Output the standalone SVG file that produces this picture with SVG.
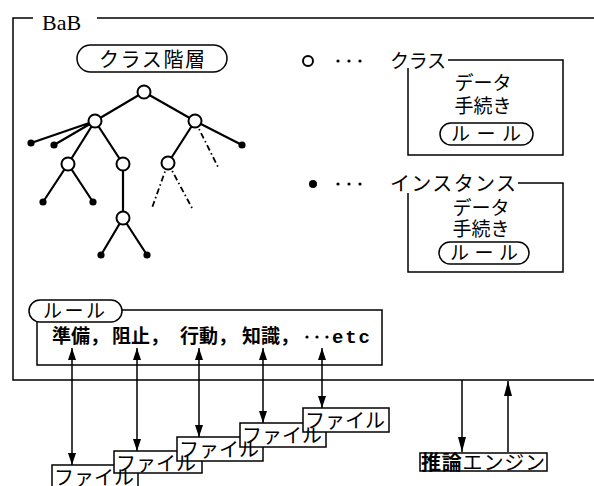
<svg xmlns="http://www.w3.org/2000/svg" width="594" height="486" viewBox="0 0 594 486">
<style>
.ln{stroke:#000;stroke-width:1.5;fill:none}
.tr{stroke:#000;stroke-width:2.2;fill:none}
.dd{stroke:#000;stroke-width:1.8;fill:none;stroke-dasharray:6 3 1.5 3}
.cls{fill:#fff;stroke:#000;stroke-width:2}
.ins{fill:#000}
.pill{fill:#fff;stroke:#000;stroke-width:1.5}
.box{fill:#fff;stroke:#000;stroke-width:1.5}
.t{font-family:"Noto Sans CJK JP","Noto Sans",sans-serif;fill:#000}
.b{font-weight:bold}
.ar{stroke:#000;stroke-width:1.5;fill:none}
</style>
<defs>
<marker id="ah" viewBox="0 0 12 8" refX="12" refY="4" markerWidth="12" markerHeight="8" markerUnits="userSpaceOnUse" orient="auto-start-reverse"><path d="M0,0L12,4L0,8z" fill="#000"/></marker>
<marker id="ahL" viewBox="0 0 15 8" refX="15" refY="4" markerWidth="15" markerHeight="8" markerUnits="userSpaceOnUse" orient="auto-start-reverse"><path d="M0,0L15,4L0,8z" fill="#000"/></marker>
</defs>
<rect width="594" height="486" fill="#fff"/>

<g id="frame">
<path class="ln" d="M33,18H13V380H594M97,18H594"/>
<text x="42" y="30" font-family="Liberation Serif,serif" font-size="22">BaB</text>
</g>

<g id="class-hierarchy-label">
<rect class="pill" x="77" y="45" width="150" height="27" rx="13.5"/>
<text class="t" x="152" y="67" font-size="20" text-anchor="middle" textLength="106">クラス階層</text>
</g>

<g id="connectors">
<g id="tree-edges">
<path class="tr" d="M144,92L95,121M144,92L195,121M95,121L31,143M95,121L54,145M95,121L68,164M95,121L123,164M68,164L43,202M68,164L93,202M123,164L123,218M123,218L101,255M123,218L147,255M195,121L242,145M195,121L168,163"/>
<path class="dd" d="M195,121L218,167M168,163L152,208M168,163L192,208"/>
</g>
<g id="file-arrows">
<line class="ar" x1="72" y1="348" x2="72" y2="465" marker-start="url(#ah)" marker-end="url(#ah)"/>
<line class="ar" x1="137" y1="348" x2="137" y2="451" marker-start="url(#ah)" marker-end="url(#ah)"/>
<line class="ar" x1="199" y1="348" x2="199" y2="437" marker-start="url(#ah)" marker-end="url(#ah)"/>
<line class="ar" x1="263" y1="348" x2="263" y2="423" marker-start="url(#ah)" marker-end="url(#ah)"/>
<line class="ar" x1="322" y1="348" x2="322" y2="408" marker-start="url(#ah)" marker-end="url(#ah)"/>
</g>
<g id="engine-arrows">
<line class="ar" x1="462" y1="380" x2="462" y2="452" marker-end="url(#ahL)"/>
<line class="ar" x1="508" y1="452" x2="508" y2="381" marker-end="url(#ahL)"/>
</g>
</g>

<g id="tree-nodes">
<circle id="n-root" class="cls" cx="144" cy="92" r="6.5"/>
<circle id="n-l" class="cls" cx="95" cy="121" r="6.5"/>
<circle id="n-r" class="cls" cx="195" cy="121" r="6.5"/>
<circle id="n-ll" class="cls" cx="68" cy="164" r="6.5"/>
<circle id="n-lr" class="cls" cx="123" cy="164" r="6.5"/>
<circle id="n-lrc" class="cls" cx="123" cy="218" r="6.5"/>
<circle id="n-rl" class="cls" cx="168" cy="163" r="6.5"/>
<circle id="i1" class="ins" cx="31" cy="143" r="3.6"/>
<circle id="i2" class="ins" cx="54" cy="145" r="3.6"/>
<circle id="i3" class="ins" cx="43" cy="202" r="3.6"/>
<circle id="i4" class="ins" cx="93" cy="202" r="3.6"/>
<circle id="i5" class="ins" cx="101" cy="255" r="3.6"/>
<circle id="i6" class="ins" cx="147" cy="255" r="3.6"/>
<circle id="i7" class="ins" cx="242" cy="145" r="3.6"/>
</g>

<g id="legend-class">
<circle class="cls" cx="308" cy="61" r="5"/>
<circle class="ins" cx="338" cy="61" r="1.6"/><circle class="ins" cx="349" cy="61" r="1.6"/><circle class="ins" cx="360" cy="61" r="1.6"/>
<text class="t" x="390" y="68" font-size="19" textLength="56">クラス</text>
<path class="ln" d="M448,60H563V155H408V68"/>
<text class="t" x="483" y="90" font-size="19" text-anchor="middle">データ</text>
<text class="t" x="483" y="113" font-size="19" text-anchor="middle">手続き</text>
<rect class="pill" x="440" y="123" width="93" height="22" rx="11"/>
<text class="t" x="486" y="141" font-size="19" text-anchor="middle" textLength="70">ルール</text>
</g>

<g id="legend-instance">
<circle class="ins" cx="313" cy="184" r="4"/>
<circle class="ins" cx="338" cy="184" r="1.6"/><circle class="ins" cx="349" cy="184" r="1.6"/><circle class="ins" cx="360" cy="184" r="1.6"/>
<text class="t" x="390" y="191" font-size="20" textLength="126">インスタンス</text>
<path class="ln" d="M518,183H563V272H408V193"/>
<text class="t" x="481" y="215" font-size="19" text-anchor="middle">データ</text>
<text class="t" x="481" y="236" font-size="19" text-anchor="middle">手続き</text>
<rect class="pill" x="439" y="242" width="90" height="22" rx="11"/>
<text class="t" x="484" y="260" font-size="19" text-anchor="middle" textLength="68">ルール</text>
</g>

<g id="rules">
<path class="ln" d="M122,310H382V365H37V322"/>
<rect class="pill" x="29" y="300" width="93" height="22" rx="11"/>
<text class="t" x="74" y="318" font-size="19" text-anchor="middle" textLength="62">ルール</text>
<text class="t b" x="52" y="343" font-size="19">準備，</text>
<text class="t b" x="112" y="343" font-size="19">阻止，</text>
<text class="t b" x="180" y="343" font-size="19">行動，</text>
<text class="t b" x="242" y="343" font-size="19">知識，</text>
<circle class="ins" cx="307" cy="337" r="1.6"/><circle class="ins" cx="317" cy="337" r="1.6"/><circle class="ins" cx="327" cy="337" r="1.6"/>
<text x="332" y="343" font-family="Liberation Mono,monospace" font-size="19" font-weight="bold" textLength="38">etc</text>
</g>

<g id="files">
<rect id="file1" class="box" x="52" y="465" width="86" height="30"/>
<rect id="file2" class="box" x="114" y="451" width="88" height="22"/>
<rect id="file3" class="box" x="177" y="437" width="86" height="24"/>
<rect id="file4" class="box" x="240" y="423" width="86" height="24"/>
<rect id="file5" class="box" x="303" y="408" width="86" height="24"/>
<text class="t" x="54" y="485" font-size="20" textLength="80">ファイル</text>
<text class="t" x="116" y="471" font-size="20" textLength="80">ファイル</text>
<text class="t" x="179" y="457" font-size="20" textLength="80">ファイル</text>
<text class="t" x="242" y="443" font-size="20" textLength="80">ファイル</text>
<text class="t" x="305" y="428" font-size="20" textLength="80">ファイル</text>
</g>

<g id="engine">
<rect class="box" x="420" y="453" width="127" height="18"/>
<text class="t" x="421" y="470" font-size="20" textLength="124"><tspan font-weight="bold">推論</tspan>エンジン</text>
</g>
</svg>
